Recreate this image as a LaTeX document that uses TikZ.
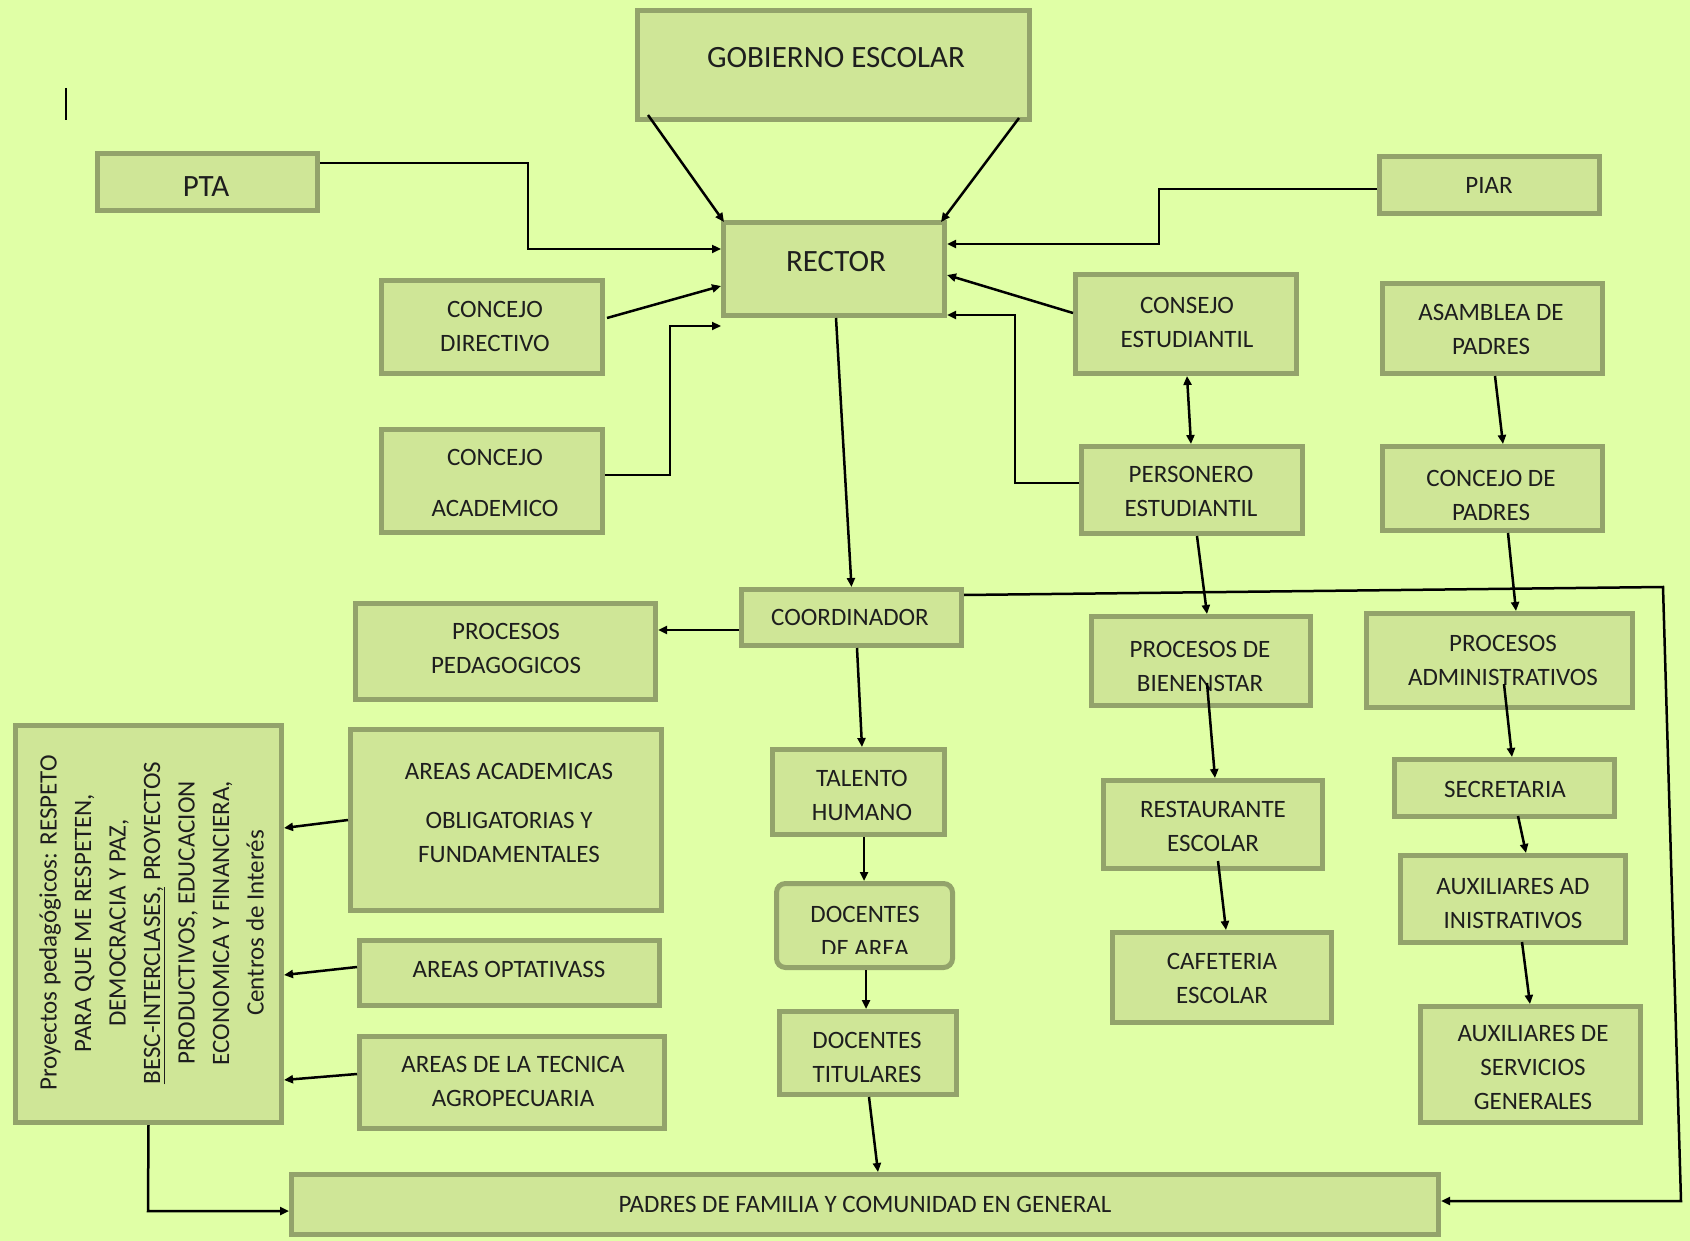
\documentclass[tikz,border=0pt]{standalone}
\usepackage{fontspec}
\setmainfont{Carlito}
\usetikzlibrary{arrows.meta}
\definecolor{bgc}{RGB}{224,255,166}
\definecolor{boxfill}{RGB}{207,230,151}
\definecolor{boxline}{RGB}{147,163,107}
\definecolor{txt}{RGB}{30,30,30}
\begin{document}
\begin{tikzpicture}[x=1pt,y=-1pt,
  box/.style={draw=boxline, fill=boxfill, line width=5pt, inner sep=0pt, outer sep=2.5pt},
  lbl/.style={text=txt, font=\fontsize{25}{34}\selectfont, align=center, inner sep=0pt},
  biglbl/.style={text=txt, font=\fontsize{31}{36}\selectfont, align=center, inner sep=0pt},
  conn/.style={-{Triangle[length=9pt,width=8pt]}, line width=2.5pt, black},
  dconn/.style={{Triangle[length=9pt,width=8pt]}-{Triangle[length=9pt,width=8pt]}, line width=2.5pt, black}]
\fill[bgc] (0,0) rectangle (1690,1241);
\useasboundingbox (0,0) rectangle (1690,1241);

% boxes
\node[box, minimum width=392, minimum height=109] (gob) at (833.5,65) {};
\node[box, minimum width=221, minimum height=93] (rector) at (834,269) {};
\node[box, minimum width=220, minimum height=57] (pta) at (207.5,182) {};
\node[box, minimum width=221, minimum height=93] (cdir) at (492,327) {};
\node[box, minimum width=221, minimum height=103] (cacad) at (492,481) {};
\node[box, minimum width=220, minimum height=57] (piar) at (1489.5,185) {};
\node[box, minimum width=221, minimum height=99] (cest) at (1186,324) {};
\node[box, minimum width=221, minimum height=87] (pers) at (1192,490) {};
\node[box, minimum width=220, minimum height=90] (asam) at (1492.5,328.5) {};
\node[box, minimum width=220, minimum height=84] (cpad) at (1492.5,488.5) {};
\node[box, minimum width=220, minimum height=56] (coord) at (851.5,617.5) {};
\node[box, minimum width=300, minimum height=96] (ppeda) at (505.5,651.5) {};
\node[box, minimum width=311, minimum height=181] (areasac) at (506,820) {};
\node[box, minimum width=300, minimum height=65] (areasop) at (509.5,973) {};
\node[box, minimum width=305, minimum height=92] (areastec) at (512,1082.5) {};
\node[box, minimum width=266, minimum height=397] (proy) at (148.5,924) {};
\node[box, minimum width=172, minimum height=85] (talento) at (858.5,792) {};
\node[box, rounded corners=9pt, minimum width=176, minimum height=84] (docarea) at (864.5,925.5) {};
\node[box, minimum width=177, minimum height=83] (doctit) at (868,1053) {};
\node[box, minimum width=219, minimum height=89] (bien) at (1201,661) {};
\node[box, minimum width=219, minimum height=88] (rest) at (1213,824.5) {};
\node[box, minimum width=219, minimum height=90] (cafe) at (1222,977.5) {};
\node[box, minimum width=266, minimum height=94] (padm) at (1499.5,660.5) {};
\node[box, minimum width=220, minimum height=57] (secr) at (1504.5,788) {};
\node[box, minimum width=225, minimum height=87] (auxad) at (1513,899) {};
\node[box, minimum width=220, minimum height=116] (auxsg) at (1530.5,1064.5) {};
\node[box, minimum width=1147, minimum height=60] (padres) at (865,1204.5) {};

% texts
\node[biglbl] (t-gob) at (836,58) {GOBIERNO ESCOLAR};
\node[biglbl] (t-rector) at (836,262) {RECTOR};
\node[biglbl] (t-pta) at (206,187) {PTA};
\node[lbl] (t-cdir) at (495,326) {CONCEJO\\DIRECTIVO};
\node[lbl] (t-cacad) at (495,482.5) {CONCEJO\\[17pt]ACADEMICO};
\node[lbl] (t-piar) at (1489,185) {PIAR};
\node[lbl] (t-cest) at (1187,322.5) {CONSEJO\\ESTUDIANTIL};
\node[lbl] (t-pers) at (1191,491.5) {PERSONERO\\ESTUDIANTIL};
\node[lbl] (t-asam) at (1491,329.5) {ASAMBLEA DE\\PADRES};
\node[lbl] (t-cpad) at (1491,495) {CONCEJO DE\\PADRES};
\node[lbl] (t-coord) at (850,617) {COORDINADOR};
\node[lbl] (t-ppeda) at (506,648.5) {PROCESOS\\PEDAGOGICOS};
\node[lbl] (t-areasac) at (509,813) {AREAS ACADEMICAS\\[15pt]OBLIGATORIAS Y\\FUNDAMENTALES};
\node[lbl] (t-areasop) at (509,969) {AREAS OPTATIVASS};
\node[lbl] (t-areastec) at (513,1081) {AREAS DE LA TECNICA\\AGROPECUARIA};
\node[lbl] (t-talento) at (862,795) {TALENTO\\HUMANO};
\begin{scope}
\clip (774,881) rectangle (955,953);
\node[lbl] (t-docarea) at (865,931) {DOCENTES\\DE AREA};
\end{scope}
\node[lbl] (t-doctit) at (867,1057.5) {DOCENTES\\TITULARES};
\node[lbl] (t-bien) at (1200,666) {PROCESOS DE\\BIENENSTAR};
\node[lbl] (t-rest) at (1213,826) {RESTAURANTE\\ESCOLAR};
\node[lbl] (t-cafe) at (1222,978) {CAFETERIA\\ESCOLAR};
\node[lbl] (t-padm) at (1503,660.5) {PROCESOS\\ADMINISTRATIVOS};
\node[lbl] (t-secr) at (1505,789) {SECRETARIA};
\node[lbl] (t-auxad) at (1513,903) {AUXILIARES AD\\INISTRATIVOS};
\node[lbl] (t-auxsg) at (1533,1067) {AUXILIARES DE\\SERVICIOS\\GENERALES};
\node[lbl] (t-padres) at (865,1204) {PADRES DE FAMILIA Y COMUNIDAD EN GENERAL};
\node[lbl, rotate=90, font=\fontsize{25}{34.5}\selectfont] (t-proy) at (151.5,923)
  {Proyectos pedagógicos: RESPETO\\PARA QUE ME RESPETEN,\\DEMOCRACIA Y PAZ,\\\underline{BESC-INTERCLASES,} PROYECTOS\\PRODUCTIVOS, EDUCACION\\ECONOMICA Y FINANCIERA,\\Centros de Interés};

% cursor mark
\coordinate (cur1) at (66,88);
\coordinate (cur2) at (66,120);
\draw[line width=2pt, black] (cur1) -- (cur2);

% bend coordinates
\coordinate (ptaA) at (528,163);
\coordinate (ptaB) at (528,249);
\coordinate (cacA) at (670,475);
\coordinate (cacB) at (670,326);
\coordinate (piA) at (1159,189);
\coordinate (piB) at (1159,244);
\coordinate (peA) at (1015,483);
\coordinate (peB) at (1015,315);
\coordinate (rA) at (1663,587);
\coordinate (rB) at (1681,1201);
\coordinate (lpA) at (148,1211);

% connectors
\draw[conn] ([shift={(13,-7)}]gob.south west) -- ([shift={(3,2)}]rector.north west);
\draw[conn] ([shift={(-13,-4)}]gob.south east) -- ([shift={(-6,2)}]rector.north east);
\draw[conn] (pta.east |- ptaA) -- (ptaA) -- (ptaB) -- (rector.west |- ptaB);
\draw[conn] ([shift={(2,-9)}]cdir.east) -- ([shift={(0,17)}]rector.west);
\draw[conn] (cacad.east |- cacA) -- (cacA) -- (cacB) -- (rector.west |- cacB);
\draw[conn] (piar.west |- piA) -- (piA) -- (piB) -- (rector.east |- piB);
\draw[conn] ([shift={(0,-11)}]cest.west) -- ([shift={(0,6)}]rector.east);
\draw[dconn] ([shift={(1,0)}]cest.south) -- ([shift={(-1,0)}]pers.north);
\draw[conn] (pers.west |- peA) -- (peA) -- (peB) -- (rector.east |- peB);
\draw[conn] ([shift={(2.5,0)}]asam.south) -- ([shift={(10.5,0)}]cpad.north);
\draw[conn] ([shift={(15.5,0)}]cpad.south) -- ([shift={(16.5,0)}]padm.north);
\draw[conn] ([shift={(2,0)}]rector.south) -- (coord.north);
\draw[conn] ([shift={(0,12.5)}]coord.west) -- ([shift={(0,-21.5)}]ppeda.east);
\draw[conn] ([shift={(5.5,0)}]coord.south) -- ([shift={(3.5,0)}]talento.north);
\draw[conn] ([shift={(5.5,0)}]talento.south) -- ([shift={(-0.5,0)}]docarea.north);
\draw[conn] ([shift={(1.5,0)}]docarea.south) -- ([shift={(-2,0)}]doctit.north);
\draw[conn] ([shift={(1,0)}]doctit.south) -- ([shift={(13,0)}]padres.north);
\draw[conn] ([shift={(5,0)}]pers.south) -- ([shift={(6,0)}]bien.north);
\draw[conn] ([shift={(6,22)}]bien.center) -- ([shift={(2,0)}]rest.north);
\draw[conn] ([shift={(5,-10)}]rest.south) -- ([shift={(4,0)}]cafe.north);
\draw[conn] ([shift={(4.5,23.5)}]padm.center) -- ([shift={(7.5,0)}]secr.north);
\draw[conn] ([shift={(13.5,-3)}]secr.south) -- ([shift={(13,0)}]auxad.north);
\draw[conn] ([shift={(9,-3)}]auxad.south) -- ([shift={(-0.5,0)}]auxsg.north);
\draw[conn] ([shift={(0,-22.5)}]coord.east) -- (rA) -- (rB) -- (padres.east |- rB);
\draw[conn] (areasac.west) -- ([shift={(0,-96)}]proy.east);
\draw[conn] ([shift={(0,-6)}]areasop.west) -- ([shift={(0,51)}]proy.east);
\draw[conn] ([shift={(0,-8.5)}]areastec.west) -- ([shift={(0,156)}]proy.east);
\draw[conn] (proy.south) -- (lpA) -- (padres.west |- lpA);
\end{tikzpicture}
\end{document}
